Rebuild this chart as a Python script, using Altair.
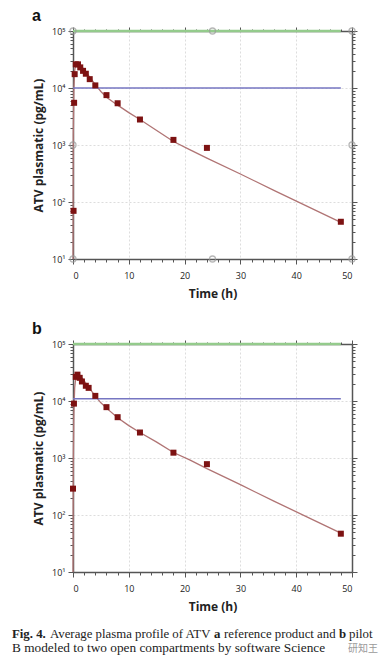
import altair as alt
import pandas as pd

# ---------------- data ----------------
# Panel a: observed means (time h, concentration pg/mL)
a_t = [0.1, 0.2, 0.3, 0.5, 0.9, 1.3, 1.8, 2.3, 3.0, 4.0, 6.0, 8.0, 12.0, 18.0, 24.0, 48.0]
a_c = [70, 5500, 17500, 26000, 26000, 23000, 20000, 17800, 14300, 11100, 7500, 5400, 2800, 1230, 890, 45]
# Panel a: fitted two-compartment curve
a_fit_t = [0, 0.05, 0.15, 0.3, 0.5, 0.8, 1.2, 1.6, 2, 3, 4, 5, 6, 8, 10, 12, 15, 18, 21, 24, 30, 36, 42, 48]
a_fit_c = [10, 1500, 9000, 20000, 26500, 27500, 26000, 23500, 21000, 15500, 11500, 8700, 6900, 5000,
           3700, 2800, 1800, 1150, 820, 590, 310, 160, 84, 44]

# Panel b: observed means
b_t = [0.0, 0.17, 0.5, 0.8, 1.2, 1.6, 2.3, 2.8, 4.0, 6.0, 8.0, 12.0, 18.0, 24.0, 48.0]
b_c = [290, 9000, 26500, 29000, 25500, 22000, 18500, 17000, 12300, 7800, 5200, 2800, 1240, 780, 47]
# Panel b: fitted curve
b_fit_t = [0, 0.05, 0.15, 0.3, 0.5, 0.8, 1.2, 1.6, 2, 3, 4, 5, 6, 8, 10, 12, 15, 18, 21, 24, 30, 36, 42, 48]
b_fit_c = [10, 800, 6000, 17000, 26000, 29500, 28000, 25500, 22500, 16500, 12200, 9300, 7500, 5100,
           3700, 2800, 1900, 1250, 920, 650, 340, 175, 92, 48]

# reference lines (upper green, blue level) per panel
green_level = 100000
a_blue = 10000
b_blue = 11000
ref_t = [0, 48]

# selection handles shown in panel a
handle_t = [0, 0, 0, 25, 25, 50, 50, 50]
handle_c = [10, 1000, 100000, 100000, 10, 10, 1000, 100000]

x_ticks = list(range(0, 51, 2))
y_ticks = [k * 10 ** e for e in range(1, 5) for k in range(1, 10)] + [100000]

FONT = "Open Sans"
AX = "#555555"
DECADE = "abs(log(datum.value)/LN10 - round(log(datum.value)/LN10)) < 0.001"


def panel(label, ot, oc, ft, fc, blue, handles):
    obs = pd.DataFrame({"t": ot, "c": oc})
    fit = pd.DataFrame({"t": ft, "c": fc})
    xs = alt.Scale(domain=[0, 50], nice=False, zero=False)
    ys = alt.Scale(type="log", domain=[10, 100000], nice=False)

    x_bottom = alt.Axis(
        values=x_ticks, title="Time (h)",
        labelExpr="datum.value % 10 === 0 ? datum.label : ''",
        tickSize={"condition": {"test": "datum.value % 10 === 0", "value": 5}, "value": 3},
        gridOpacity={"condition": {"test": "datum.value % 10 === 0", "value": 1}, "value": 0},
        grid=True, labelFontSize=9, labelPadding=7, titleFontSize=12, titlePadding=8,
    )
    y_left = alt.Axis(
        values=y_ticks, title="ATV plasmatic (pg/mL)",
        labelExpr="(" + DECADE + ") ? '10' + ['⁰','¹','²','³','⁴','⁵'][round(log(datum.value)/LN10)] : ''",
        tickSize={"condition": {"test": DECADE, "value": 5}, "value": 3},
        gridOpacity={"condition": {"test": DECADE, "value": 1}, "value": 0},
        grid=True, labelFontSize=9, labelPadding=3, titleFontSize=12, titlePadding=6,
    )
    x_top = alt.Axis(values=x_ticks, orient="top", labels=False, title=None, grid=False,
                     tickSize={"condition": {"test": "datum.value % 10 === 0", "value": 4}, "value": 2})
    y_right = alt.Axis(values=y_ticks, orient="right", labels=False, title=None, grid=False,
                       tickSize={"condition": {"test": DECADE, "value": 5}, "value": 3})

    line = alt.Chart(fit).mark_line(color="#b07474", strokeWidth=1.3).encode(
        x=alt.X("t:Q", scale=xs, axis=x_bottom),
        y=alt.Y("c:Q", scale=ys, axis=y_left),
    )
    frame = alt.Chart(fit).mark_point(opacity=0).encode(
        x=alt.X("t:Q", scale=xs, axis=x_top),
        y=alt.Y("c:Q", scale=ys, axis=y_right),
    )
    refs = pd.DataFrame({"t0": [ref_t[0]], "t1": [ref_t[1]], "g": [green_level], "b": [blue]})
    green = alt.Chart(refs).mark_rule(color="#94cb8c", strokeWidth=2.6).encode(
        x=alt.X("t0:Q", scale=xs, axis=None), x2="t1:Q",
        y=alt.Y("g:Q", scale=ys, axis=None),
    )
    bline = alt.Chart(refs).mark_rule(color="#7676c2", strokeWidth=1.5).encode(
        x=alt.X("t0:Q", scale=xs, axis=None), x2="t1:Q",
        y=alt.Y("b:Q", scale=ys, axis=None),
    )
    pts = alt.Chart(obs).mark_point(shape="square", filled=True, color="#7d1212", size=36, opacity=1).encode(
        x=alt.X("t:Q", scale=xs, axis=None),
        y=alt.Y("c:Q", scale=ys, axis=None),
    )
    tag = alt.Chart(pd.DataFrame({"s": [label]})).mark_text(
        font="Liberation Sans", fontSize=16, fontWeight="bold", color="#111111",
        align="left", baseline="middle",
    ).encode(text="s:N", x=alt.value(-41), y=alt.value(-15))
    layers = [line, frame, green, bline, pts, tag]
    if handles:
        hd = pd.DataFrame({"t": handle_t, "c": handle_c})
        hnd = alt.Chart(hd).mark_point(shape="circle", filled=False, color="#9a9a9a", size=36, strokeWidth=1.3).encode(
            x=alt.X("t:Q", scale=xs, axis=None),
            y=alt.Y("c:Q", scale=ys, axis=None),
        )
        layers.append(hnd)
    return alt.layer(*layers).resolve_axis(x="independent", y="independent").properties(
        width=279, height=228,
    )


pa = panel("a", a_t, a_c, a_fit_t, a_fit_c, a_blue, True)
pb = panel("b", b_t, b_c, b_fit_t, b_fit_c, b_blue, False)

# caption
SERIF = "Liberation Serif"
def seg(txt, x, y, bold=False, color="#222222", font=SERIF, size=12.8):
    return alt.Chart(pd.DataFrame({"s": [txt]})).mark_text(
        align="left", baseline="alphabetic", font=font, fontSize=size,
        fontWeight="bold" if bold else "normal", color=color,
    ).encode(text="s:N", x=alt.value(x), y=alt.value(y))

cap = alt.layer(
    seg("Fig. 4.", -61, 9, True),
    seg("Average plasma profile of ATV", -23, 9),
    seg("a", 141, 9, True),
    seg("reference product and", 151, 9),
    seg("b", 266, 9, True),
    seg("pilot", 276, 9),
    seg("B modeled to two open compartments by software Science", -61, 23, size=13.3),
    seg("研知王", 275, 23, color="#9a9a9a", font="Noto Sans CJK SC", size=10),
).properties(width=279, height=23)

panels = alt.vconcat(pa, pb, spacing=22)
chart = alt.vconcat(panels, cap, spacing=16).configure(
    padding={"left": 4, "top": 0, "right": 2, "bottom": 0},
    font=FONT,
).configure_view(stroke=None).configure_axis(
    domainColor=AX, domainWidth=1.5, tickColor=AX, tickWidth=1,
    labelColor="#222222", labelFont=FONT, titleFont=FONT, titleFontWeight="bold",
    titleColor="#222222", gridColor="#dddddd", gridDash=[2, 2], gridWidth=1,
)

chart.save("out.html", embed_options={"renderer": "svg", "actions": False})
